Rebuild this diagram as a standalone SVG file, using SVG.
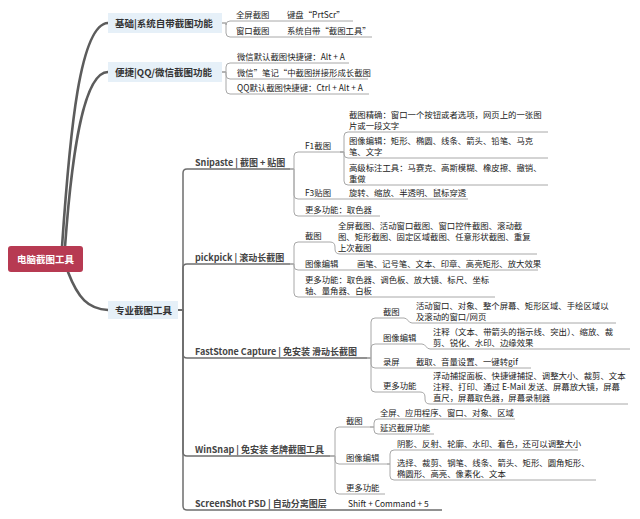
<svg xmlns="http://www.w3.org/2000/svg" width="640" height="519" viewBox="0 0 640 519">
<style>
text{font-family:"Noto Sans CJK SC","Noto Sans",sans-serif}
.root{font-size:9.5px;font-weight:bold;fill:#fff}
.l1{font-size:9.5px;font-weight:bold;fill:#333}
.l2{font-size:9px;font-weight:bold;fill:#444}
.lf{font-size:8.4px;fill:#222}
.box{fill:#e6f0f8}
.c{fill:none;stroke:#a8a8a8;stroke-width:1}
.cs{fill:none;stroke:#6e6e6e;stroke-width:1.5}
.cm{fill:none;stroke:#5c5c5c;stroke-width:2.6;stroke-linecap:round}
</style>
<rect width="640" height="519" fill="#fff"/>
<g id="connectors">
<path class="cm" d="M62,247 C70,130 80,24 108,23"/>
<path class="cm" d="M65,247 C72,150 84,72 108,72"/>
<path class="cm" d="M68,272 C78,298 88,309 108,310"/>
<path class="c" d="M222,23 H226 V25 Q226,21 230,21 H353"/>
<path class="c" d="M222,23 H226 V33 Q226,37 230,37 H372"/>
<path class="c" d="M222,72 H226 V67 Q226,63 230,63 H349"/>
<path class="c" d="M222,72 H226 V75 Q226,79 230,79 H368"/>
<path class="c" d="M222,72 H226 V90 Q226,94 230,94 H369"/>
<path class="cs" d="M178,310 H183 V173 Q183,169 187,169 H290"/>
<path class="cs" d="M178,310 H183 V268 Q183,264 187,264 H290"/>
<path class="cs" d="M178,310 H183 V354 Q183,358 187,358 H367"/>
<path class="cs" d="M178,310 H183 V452 Q183,456 187,456 H330"/>
<path class="cs" d="M178,310 H183 V506 Q183,510 187,510 H442"/>
<path class="c" d="M290,169 H294 V156 Q294,152 298,152 H340"/>
<path class="c" d="M290,169 H294 V195 Q294,199 298,199 H468"/>
<path class="c" d="M290,169 H294 V212 Q294,216 298,216 H380"/>
<path class="c" d="M340,152 H344 V136 Q344,132 348,132 H548"/>
<path class="c" d="M340,152 H344 V154 Q344,158 348,158 H548"/>
<path class="c" d="M340,152 H344 V181 Q344,185 348,185 H548"/>
<path class="c" d="M290,264 H294 V246 Q294,242 298,242 H330 Q335,242 335,247 V249 Q335,254 340,254 H537"/>
<path class="c" d="M290,264 H294 V266 Q294,270 298,270 H538"/>
<path class="c" d="M290,264 H294 V293 Q294,297 298,297 H495"/>
<path class="c" d="M367,358 H371 V322 Q371,318 375,318 H404 C408,318 408,323 412,323 H616"/>
<path class="c" d="M367,358 H371 V348 Q371,344 375,344 H422 C426,344 426,349 430,349 H630"/>
<path class="c" d="M367,358 H371 V364 Q371,368 375,368 H531"/>
<path class="c" d="M367,358 H371 V388 Q371,392 375,392 H420 Q425,392 425,397 V399 Q425,404 430,404 H628"/>
<path class="c" d="M330,456 H335 V431 Q335,427 339,427 H370"/>
<path class="c" d="M370,427 H374 V423 Q374,419 378,419 H515"/>
<path class="c" d="M370,427 H374 V430 Q374,434 378,434 H434"/>
<path class="c" d="M330,456 H335 V460 Q335,464 339,464 H387"/>
<path class="c" d="M387,464 H390 V454 Q390,450 394,450 H578"/>
<path class="c" d="M387,464 H390 V476 Q390,480 394,480 H596"/>
<path class="c" d="M330,456 H335 V490 Q335,494 339,494 H385"/>
</g>
<g id="root"><rect x="8" y="246" width="75" height="26" rx="3" fill="#b73a52"/><text class="root" x="45.5" y="262.5" text-anchor="middle">电脑截图工具</text></g>
<g id="n-basic"><rect class="box" x="108" y="13" width="114" height="20"/><text class="l1" x="115" y="26.5">基础|系统自带截图功能</text></g>
<g id="n-easy"><rect class="box" x="108" y="62" width="114" height="20"/><text class="l1" x="115" y="75.5">便捷|QQ/微信截图功能</text></g>
<g id="n-pro"><rect class="box" x="108" y="301" width="70" height="18"/><text class="l1" x="115" y="313.5">专业截图工具</text></g>
<g id="n-full"><text class="lf" x="236" y="18">全屏截图</text></g>
<g id="n-full-k"><text class="lf" x="287" y="18">键盘“PrtScr”</text></g>
<g id="n-win"><text class="lf" x="236" y="34">窗口截图</text></g>
<g id="n-win-k"><text class="lf" x="287" y="34">系统自带“截图工具”</text></g>
<g id="n-wx1"><text class="lf" x="237" y="60">微信默认截图快捷键：Alt + A</text></g>
<g id="n-wx2"><text class="lf" x="237" y="76">微信”笔记“中截图拼接形成长截图</text></g>
<g id="n-qq"><text class="lf" x="237" y="91">QQ默认截图快捷键：Ctrl + Alt + A</text></g>
<g id="n-snip"><text class="l2" x="195" y="165.5">Snipaste | 截图 + 贴图</text></g>
<g id="n-f1"><text class="lf" x="305" y="149">F1截图</text></g>
<g id="n-f1a"><text class="lf" x="349" y="118">截图精确：窗口一个按钮或者选项，网页上的一张图</text><text class="lf" x="349" y="129">片或一段文字</text></g>
<g id="n-f1b"><text class="lf" x="349" y="144">图像编辑：矩形、椭圆、线条、箭头、铅笔、马克</text><text class="lf" x="349" y="155">笔、文字</text></g>
<g id="n-f1c"><text class="lf" x="349" y="171">高级标注工具：马赛克、高斯模糊、橡皮擦、撤销、</text><text class="lf" x="349" y="182">重做</text></g>
<g id="n-f3"><text class="lf" x="305" y="196">F3贴图</text></g>
<g id="n-f3a"><text class="lf" x="349" y="196">旋转、缩放、半透明、鼠标穿透</text></g>
<g id="n-snipmore"><text class="lf" x="305" y="213">更多功能：取色器</text></g>
<g id="n-pick"><text class="l2" x="195" y="261">pickpick | 滚动长截图</text></g>
<g id="n-pk1"><text class="lf" x="305" y="239">截图</text></g>
<g id="n-pk1a"><text class="lf" x="338" y="229">全屏截图、活动窗口截图、窗口控件截图、滚动截</text><text class="lf" x="338" y="240">图、矩形截图、固定区域截图、任意形状截图、重复</text><text class="lf" x="338" y="251">上次截图</text></g>
<g id="n-pk2"><text class="lf" x="305" y="267">图像编辑</text></g>
<g id="n-pk2a"><text class="lf" x="357" y="267">画笔、记号笔、文本、印章、高亮矩形、放大效果</text></g>
<g id="n-pk3"><text class="lf" x="305" y="283">更多功能：取色器、调色板、放大镜、标尺、坐标</text><text class="lf" x="305" y="294">轴、量角器、白板</text></g>
<g id="n-fs"><text class="l2" x="195" y="355">FastStone Capture | 免安装 滑动长截图</text></g>
<g id="n-fs1"><text class="lf" x="383" y="315">截图</text></g>
<g id="n-fs1a"><text class="lf" x="416" y="309">活动窗口、对象、整个屏幕、矩形区域、手绘区域以</text><text class="lf" x="416" y="320">及滚动的窗口/网页</text></g>
<g id="n-fs2"><text class="lf" x="383" y="341">图像编辑</text></g>
<g id="n-fs2a"><text class="lf" x="433" y="335">注释（文本、带箭头的指示线、突出）、缩放、裁</text><text class="lf" x="433" y="346">剪、锐化、水印、边缘效果</text></g>
<g id="n-fs3"><text class="lf" x="383" y="365">录屏</text></g>
<g id="n-fs3a"><text class="lf" x="416" y="365">截取、音量设置、一键转gif</text></g>
<g id="n-fs4"><text class="lf" x="383" y="389">更多功能</text></g>
<g id="n-fs4a"><text class="lf" x="433" y="379">浮动捕捉面板、快捷键捕捉、调整大小、裁剪、文本</text><text class="lf" x="433" y="390">注释、打印、通过 E-Mail 发送、屏幕放大镜，屏幕</text><text class="lf" x="433" y="401">直尺，屏幕取色器，屏幕录制器</text></g>
<g id="n-ws"><text class="l2" x="195" y="453">WinSnap | 免安装 老牌截图工具</text></g>
<g id="n-ws1"><text class="lf" x="346" y="424">截图</text></g>
<g id="n-ws1a"><text class="lf" x="380" y="416">全屏、应用程序、窗口、对象、区域</text></g>
<g id="n-ws1b"><text class="lf" x="380" y="431">延迟截屏功能</text></g>
<g id="n-ws2"><text class="lf" x="346" y="461">图像编辑</text></g>
<g id="n-ws2a"><text class="lf" x="397" y="447">阴影、反射、轮廓、水印、着色，还可以调整大小</text></g>
<g id="n-ws2b"><text class="lf" x="397" y="466">选择、裁剪、钢笔、线条、箭头、矩形、圆角矩形、</text><text class="lf" x="397" y="477">椭圆形、高亮、像素化、文本</text></g>
<g id="n-ws3"><text class="lf" x="346" y="491">更多功能</text></g>
<g id="n-psd"><text class="l2" x="195" y="507">ScreenShot PSD | 自动分离图层</text></g>
<g id="n-psd1"><text class="lf" x="348" y="507">Shift + Command + 5</text></g>
</svg>
